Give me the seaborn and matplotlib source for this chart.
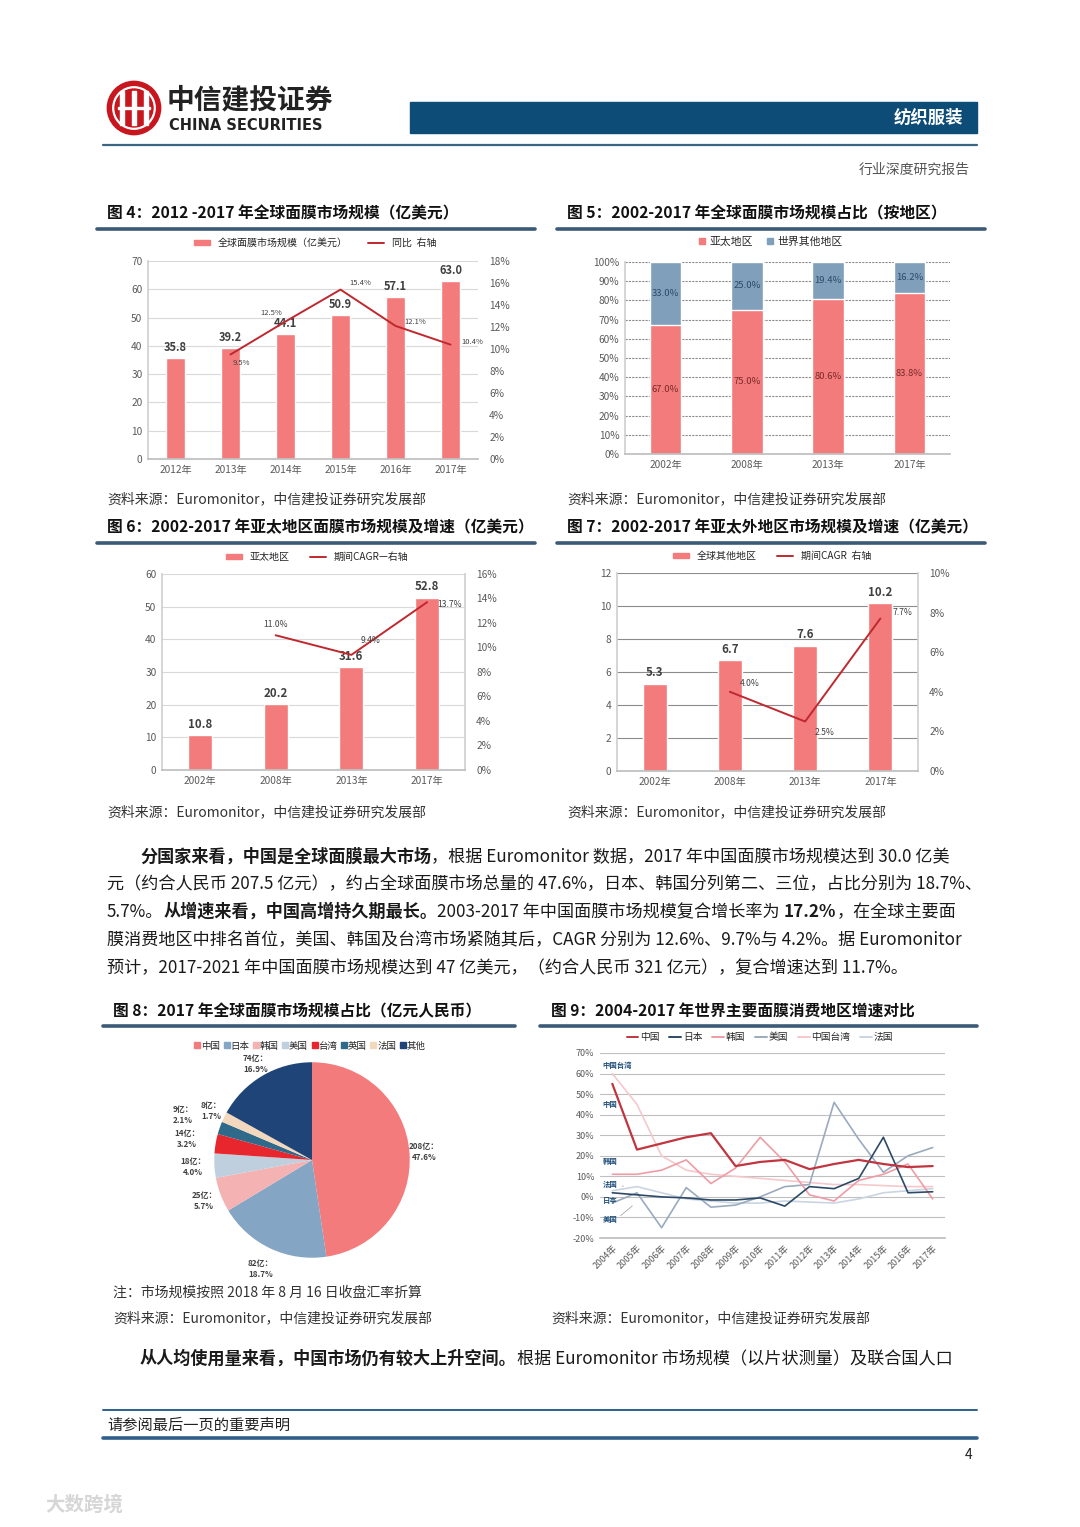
import numpy as np
import pandas as pd
import matplotlib
matplotlib.use("Agg")
import matplotlib.pyplot as plt
import seaborn as sns
from matplotlib.lines import Line2D
from matplotlib.patches import Patch, Circle, Rectangle
from matplotlib.ticker import FuncFormatter

# ---------------- data ----------------
years4 = ["2012年", "2013年", "2014年", "2015年", "2016年", "2017年"]
market4 = [35.8, 39.2, 44.1, 50.9, 57.1, 63.0]
yoy_years4 = ["2013年", "2014年", "2015年", "2016年", "2017年"]
yoy4 = [9.5, 12.5, 15.4, 12.1, 10.4]

years5 = ["2002年", "2008年", "2013年", "2017年"]
asia_share = [67.0, 75.0, 80.6, 83.8]
other_share = [33.0, 25.0, 19.4, 16.2]

asia_size = [10.8, 20.2, 31.6, 52.8]
cagr_years = ["2008年", "2013年", "2017年"]
asia_cagr = [11.0, 9.4, 13.7]

other_size = [5.3, 6.7, 7.6, 10.2]
other_cagr = [4.0, 2.5, 7.7]

pie_names = ["中国", "日本", "韩国", "美国", "台湾", "英国", "法国", "其他"]
pie_yi = [208, 82, 25, 18, 14, 9, 8, 74]
pie_pct = [47.6, 18.7, 5.7, 4.0, 3.2, 2.1, 1.7, 16.9]

years9 = ["2004年", "2005年", "2006年", "2007年", "2008年", "2009年", "2010年",
          "2011年", "2012年", "2013年", "2014年", "2015年", "2016年", "2017年"]
g_cn = [55, 23, 26, 29, 31, 15, 17, 18, 13.5, 16, 18, 16, 14.5, 15]
g_jp = [2, 1, 0, -0.5, -1.5, -1.5, -0.5, -4.5, 5, 4, 9, 29, 2, 2.5]
g_kr = [11, 11, 13, 18, 6.5, 14, 29, 17, 1, -2, 8, 11, 16, -1]
g_us = [-3, 2, -15, 4.5, -5, -4, 0, 5, 6, 46, 28, 12, 20, 24]
g_tw = [60, 45, 20, 13, 11, 10, 9, 8, 7, 6, 6, 5.5, 5, 5]
g_fr = [3, 5, 2, -1, -2, -3, -3, -2, -2.5, -3, -1, 2, 3, 4]
names9 = ["中国", "日本", "韩国", "美国", "中国台湾", "法国"]

# ---------------- style ----------------
sns.set_theme(style="white")
plt.rcParams["font.family"] = ["Noto Sans CJK SC", "DejaVu Sans"]
plt.rcParams["axes.unicode_minus"] = False

W, H = 1080, 1527
fig = plt.figure(figsize=(W / 100, H / 100), dpi=100)
fig.patch.set_facecolor("white")

PINK = "#f47b7b"
STEEL = "#7f9fba"
DARKRED = "#c0282f"
TICK = "#595959"
NAVY = "#3b5a78"
TS = 7.3  # tick label size


def box(x0, y0, x1, y1):
    return fig.add_axes([x0 / W, 1 - y1 / H, (x1 - x0) / W, (y1 - y0) / H])


def txt(x, y, s, **kw):
    kw.setdefault("va", "center")
    return fig.text(x / W, 1 - y / H, s, **kw)


def hline(x0, x1, y, lw, color):
    fig.add_artist(Line2D([x0 / W, x1 / W], [1 - y / H, 1 - y / H], lw=lw, color=color))


renderer = fig.canvas.get_renderer()


def runs(x, y, parts, size):
    for s, bold in parts:
        t = txt(x, y, s, fontsize=size, fontweight="bold" if bold else "normal", color="#1a1a1a")
        x += t.get_window_extent(renderer).width


def pct_fmt(ax):
    ax.yaxis.set_major_formatter(FuncFormatter(lambda v, p: f"{v:.0f}%"))


def style_ax(ax, grid_color="#d9d9d9", ls="-"):
    ax.set_xlabel("")
    ax.set_ylabel("")
    ax.tick_params(length=0, labelsize=TS, labelcolor=TICK, pad=4)
    ax.set_axisbelow(True)
    ax.yaxis.grid(True, color=grid_color, lw=0.8, ls=ls)
    for side in ["top", "right"]:
        ax.spines[side].set_visible(False)
    ax.spines["left"].set_color("#d0d0d0")
    ax.spines["bottom"].set_color("#bfbfbf")


# ---------------- header ----------------
lax = box(106, 80, 162, 136)
lax.set_xlim(-1.05, 1.05)
lax.set_ylim(-1.05, 1.05)
lax.set_aspect("equal")
lax.axis("off")
lax.add_patch(Circle((0, 0), 1, color="#c8161e"))
lax.add_patch(Circle((0, 0), 0.78, fill=False, ec="white", lw=1.6))
for xx in [-0.45, 0, 0.45]:
    lax.add_patch(Rectangle((xx - 0.07, -0.62), 0.14, 1.24, color="white"))
lax.add_patch(Rectangle((-0.6, -0.05), 1.2, 0.1, color="white"))
txt(167, 100, "中信建投证券", fontsize=20, fontweight="bold", color="#222222")
txt(169, 125, "CHINA SECURITIES", fontsize=10.5, fontweight="bold", color="#222222",
    family=["DejaVu Sans"])
fig.add_artist(Rectangle((410 / W, 1 - 133 / H), 567 / W, 31 / H, color="#0d4c77"))
txt(963, 118, "纺织服装", fontsize=12.5, fontweight="bold", color="white", ha="right")
hline(103, 977, 145, 1.6, "#3a6584")
txt(970, 170, "行业深度研究报告", fontsize=10, color="#555555", ha="right")

# ---------------- titles / rules ----------------
TF = 11.3
txt(107, 213, "图 4：2012 -2017 年全球面膜市场规模（亿美元）", fontsize=TF, fontweight="bold", color="#111111")
txt(567, 213, "图 5：2002-2017 年全球面膜市场规模占比（按地区）", fontsize=TF, fontweight="bold", color="#111111")
hline(97, 535, 229, 2.6, NAVY)
hline(557, 985, 229, 2.6, NAVY)
src = "资料来源：Euromonitor，中信建投证券研究发展部"
SF = 10
txt(107, 499, src, fontsize=SF, fontstyle="italic", color="#333333")
txt(567, 499, src, fontsize=SF, fontstyle="italic", color="#333333")
txt(107, 527, "图 6：2002-2017 年亚太地区面膜市场规模及增速（亿美元）", fontsize=TF, fontweight="bold", color="#111111")
txt(567, 527, "图 7：2002-2017 年亚太外地区市场规模及增速（亿美元）", fontsize=TF, fontweight="bold", color="#111111")
hline(97, 535, 543, 2.6, NAVY)
hline(557, 985, 543, 2.6, NAVY)
txt(107, 812, src, fontsize=SF, fontstyle="italic", color="#333333")
txt(567, 812, src, fontsize=SF, fontstyle="italic", color="#333333")

# ---------------- fig 4 ----------------
ax = box(148, 261, 478, 459)
sns.barplot(x=years4, y=market4, color=PINK, width=0.34, saturation=1, ax=ax)
ax.bar_label(ax.containers[0], fmt="%.1f", fontsize=8, fontweight="bold", color="#404040", padding=3)
ax.set_ylim(0, 70)
ax.set_yticks(range(0, 71, 10))
style_ax(ax)
ax2 = ax.twinx()
xpos = [years4.index(y) for y in yoy_years4]
sns.lineplot(x=xpos, y=yoy4, color=DARKRED, lw=1.4, ax=ax2)
ax2.set_ylim(0, 18)
ax2.set_yticks(range(0, 19, 2))
pct_fmt(ax2)
ax2.tick_params(length=0, labelsize=TS, labelcolor=TICK, pad=8)
for s in ax2.spines.values():
    s.set_visible(False)
ax.set_xlim(-0.5, len(years4) - 0.5)
off4 = [(8, -6), (-10, 6), (14, 5), (14, 3), (16, 2)]
for xp, v, (dx, dy) in zip(xpos, yoy4, off4):
    ax2.annotate(f"{v:.1f}%", (xp, v), xytext=(dx, dy), textcoords="offset points",
                 fontsize=5.5, color="#404040", ha="center", va="center")
fig.legend(handles=[Patch(color=PINK, label="全球面膜市场规模（亿美元）"),
                    Line2D([], [], color=DARKRED, lw=1.4, label="同比  右轴")],
           loc="center", bbox_to_anchor=(315 / W, 1 - 243 / H), ncol=2, frameon=False,
           fontsize=7.2, handlelength=1.6, handleheight=0.5, columnspacing=2)

# ---------------- fig 5 ----------------
ax = box(625, 262, 950, 454)
tot = [a + o for a, o in zip(asia_share, other_share)]
sns.barplot(x=years5, y=tot, color=STEEL, width=0.39, saturation=1, ax=ax)
sns.barplot(x=years5, y=asia_share, color=PINK, width=0.39, saturation=1, ax=ax)
ax.set_ylim(0, 100)
ax.set_yticks(range(0, 101, 10))
pct_fmt(ax)
style_ax(ax, grid_color="#8c8c8c", ls=(0, (2, 1)))
for i, (a, o) in enumerate(zip(asia_share, other_share)):
    ax.text(i, a / 2, f"{a:.1f}%", ha="center", va="center", fontsize=6.8, color="#7a2a2a")
    ax.text(i, a + o / 2, f"{o:.1f}%", ha="center", va="center", fontsize=6.8, color="#2d4a6a")
fig.legend(handles=[Line2D([], [], marker="s", ls="", color=PINK, markersize=4.5, label="亚太地区"),
                    Line2D([], [], marker="s", ls="", color=STEEL, markersize=4.5, label="世界其他地区")],
           loc="center", bbox_to_anchor=(770 / W, 1 - 242 / H), ncol=2, frameon=False,
           fontsize=7.8, handlelength=0.8, handletextpad=0.3, columnspacing=1.2)


# ---------------- fig 6 / fig 7 ----------------
def bar_cagr(rect, sizes, cagr, ymax, ystep, rmax, offs, leg, legx, grid_color):
    ax = box(*rect)
    sns.barplot(x=years5, y=sizes, color=PINK, width=0.32, saturation=1, ax=ax)
    ax.bar_label(ax.containers[0], fmt="%.1f", fontsize=8.3, fontweight="bold", color="#404040", padding=3)
    ax.set_ylim(0, ymax)
    ax.set_yticks(np.arange(0, ymax + 0.01, ystep))
    ax.yaxis.set_major_formatter(FuncFormatter(lambda v, p: f"{v:.0f}"))
    style_ax(ax, grid_color=grid_color)
    ax.spines["right"].set_visible(True)
    ax.spines["right"].set_color("#d0d0d0")
    a2 = ax.twinx()
    xp = [years5.index(y) for y in cagr_years]
    sns.lineplot(x=xp, y=cagr, color=DARKRED, lw=1.4, ax=a2)
    a2.set_ylim(0, rmax)
    a2.set_yticks(range(0, rmax + 1, 2))
    pct_fmt(a2)
    a2.tick_params(length=0, labelsize=TS, labelcolor=TICK, pad=8)
    for s in a2.spines.values():
        s.set_visible(False)
    ax.set_xlim(-0.5, len(years5) - 0.5)
    for x, v, (dx, dy) in zip(xp, cagr, offs):
        a2.annotate(f"{v:.1f}%", (x, v), xytext=(dx, dy), textcoords="offset points",
                    fontsize=6.2, color="#404040", ha="center", va="center")
    fig.legend(handles=[Patch(color=PINK, label=leg[0]),
                        Line2D([], [], color=DARKRED, lw=1.4, label=leg[1])],
               loc="center", bbox_to_anchor=(legx / W, 1 - rect[1] / H + 17 / H), ncol=2, frameon=False,
               fontsize=7.2, handlelength=1.6, handleheight=0.5, columnspacing=2)


bar_cagr((162, 574, 465, 770), asia_size, asia_cagr, 60, 10, 16,
         [(0, 8), (14, 10), (16, -2)], ["亚太地区", "期间CAGR—右轴"], 317, "#d9d9d9")
bar_cagr((617, 573, 918, 771), other_size, other_cagr, 12, 2, 10,
         [(14, 6), (14, -8), (16, 4)], ["全球其他地区", "期间CAGR  右轴"], 772, "#8c8c8c")

# ---------------- paragraph ----------------
FS = 12.3
runs(140, 857, [("分国家来看，中国是全球面膜最大市场", True),
                ("，根据 Euromonitor 数据，2017 年中国面膜市场规模达到 30.0 亿美", False)], FS)
runs(107, 884, [("元（约合人民币 207.5 亿元），约占全球面膜市场总量的 47.6%，日本、韩国分列第二、三位，占比分别为 18.7%、", False)], FS)
runs(107, 912, [("5.7%。", False), ("从增速来看，中国高增持久期最长。", True),
                ("2003-2017 年中国面膜市场规模复合增长率为 ", False), ("17.2%", True),
                ("，在全球主要面", False)], FS)
runs(107, 940, [("膜消费地区中排名首位，美国、韩国及台湾市场紧随其后，CAGR 分别为 12.6%、9.7%与 4.2%。据 Euromonitor", False)], FS)
runs(107, 968, [("预计，2017-2021 年中国面膜市场规模达到 47 亿美元，（约合人民币 321 亿元），复合增速达到 11.7%。", False)], FS)

txt(113, 1011, "图 8：2017 年全球面膜市场规模占比（亿元人民币）", fontsize=TF, fontweight="bold", color="#111111")
txt(551, 1011, "图 9：2004-2017 年世界主要面膜消费地区增速对比", fontsize=TF, fontweight="bold", color="#111111")
hline(103, 515, 1026, 2.6, NAVY)
hline(540, 977, 1026, 2.6, NAVY)

# ---------------- fig 8 pie ----------------
pie_colors = ["#f47b7b", "#84a5c4", "#f5b2b2", "#bfcfde", "#e8262d", "#2f6a8a", "#f3d8bd", "#1f4477"]
label_dist = [1.15, 1.23, 1.18, 1.22, 1.3, 1.4, 1.15, 1.14]
pax = box(182, 1030, 442, 1290)
wedges, _ = pax.pie(pie_pct, colors=pie_colors, startangle=90, counterclock=False,
                    wedgeprops=dict(lw=0))
pax.set_xlim(-1.33, 1.33)
pax.set_ylim(-1.33, 1.33)
pax.set_aspect("equal")
for w, v, p, d in zip(wedges, pie_yi, pie_pct, label_dist):
    ang = np.deg2rad((w.theta1 + w.theta2) / 2)
    pax.text(d * np.cos(ang), d * np.sin(ang), f"{v}亿：\n{p:.1f}%", ha="center", va="center",
             fontsize=5.8, fontweight="bold", color="#404040", linespacing=1.3)
fig.legend(handles=[Line2D([], [], marker="s", ls="", color=c, markersize=3.8, label=n)
                    for n, c in zip(pie_names, pie_colors)],
           loc="center", bbox_to_anchor=(310 / W, 1 - 1046 / H), ncol=8, frameon=False,
           fontsize=6.8, handlelength=0.6, handletextpad=0.1, columnspacing=0.4)

# ---------------- fig 9 lines ----------------
df9 = pd.DataFrame({"年份": years9 * 6,
                    "地区": sum([[n] * len(years9) for n in names9], []),
                    "增速": g_cn + g_jp + g_kr + g_us + g_tw + g_fr})
pal9 = {"中国": "#c0353f", "日本": "#2c4a67", "韩国": "#ef9ca5",
        "美国": "#9aabbd", "中国台湾": "#f6c8cc", "法国": "#c9d5e2"}
order9 = ["中国台湾", "法国", "美国", "韩国", "日本", "中国"]
ax = box(600, 1053, 945, 1238)
for n in order9:
    d = df9[df9["地区"] == n]
    sns.lineplot(data=d, x="年份", y="增速", color=pal9[n], lw=1.6 if n == "中国" else 1.2,
                 sort=False, ax=ax)
ax.set_ylim(-20, 70)
ax.set_yticks(range(-20, 71, 10))
ax.set_xlim(-0.5, len(years9) - 0.5)
pct_fmt(ax)
style_ax(ax, grid_color="#bfbfbf")
ax.spines["left"].set_visible(False)
ax.tick_params(axis="y", labelsize=6.5)
ax.tick_params(axis="x", labelsize=6.5, rotation=45)
for lab in ax.get_xticklabels():
    lab.set_ha("right")
    lab.set_rotation_mode("anchor")
tags = [("中国台湾", 64), ("中国", 45), ("韩国", 17), ("法国", 6), ("日本", -2), ("美国", -11)]
for n, yv in tags:
    ax.text(-0.4, yv, n, fontsize=5.3, fontweight="bold", color="#1f4e79", va="center", ha="left")
ax.annotate("", xy=(0.55, 4.5), xytext=(0.3, 6), arrowprops=dict(arrowstyle="-", color="#999999", lw=0.5))
ax.annotate("", xy=(0.9, -3.5), xytext=(0.25, -10), arrowprops=dict(arrowstyle="-", color="#999999", lw=0.5))
fig.legend(handles=[Line2D([], [], color=pal9[n], lw=1.4, label=n) for n in names9],
           loc="center", bbox_to_anchor=(760 / W, 1 - 1037 / H), ncol=6, frameon=False,
           fontsize=7, handlelength=1.2, handletextpad=0.2, columnspacing=1.0)

# ---------------- notes / footer ----------------
txt(113, 1293, "注：市场规模按照 2018 年 8 月 16 日收盘汇率折算", fontsize=SF, fontstyle="italic", color="#333333")
txt(113, 1318, src, fontsize=SF, fontstyle="italic", color="#333333")
txt(551, 1318, src, fontsize=SF, fontstyle="italic", color="#333333")
runs(140, 1359, [("从人均使用量来看，中国市场仍有较大上升空间。", True),
                 ("根据 Euromonitor 市场规模（以片状测量）及联合国人口", False)], FS)
hline(103, 977, 1410, 1.4, "#2f5f8a")
txt(107, 1425, "请参阅最后一页的重要声明", fontsize=11, color="#222222")
hline(103, 977, 1438, 2.6, "#2f5f8a")
txt(972, 1455, "4", fontsize=10, color="#222222", ha="right")
txt(45, 1505, "大数跨境", fontsize=14, color="#d6d6d6", fontweight="bold")

fig.savefig("out.png", dpi=100, facecolor="white")
